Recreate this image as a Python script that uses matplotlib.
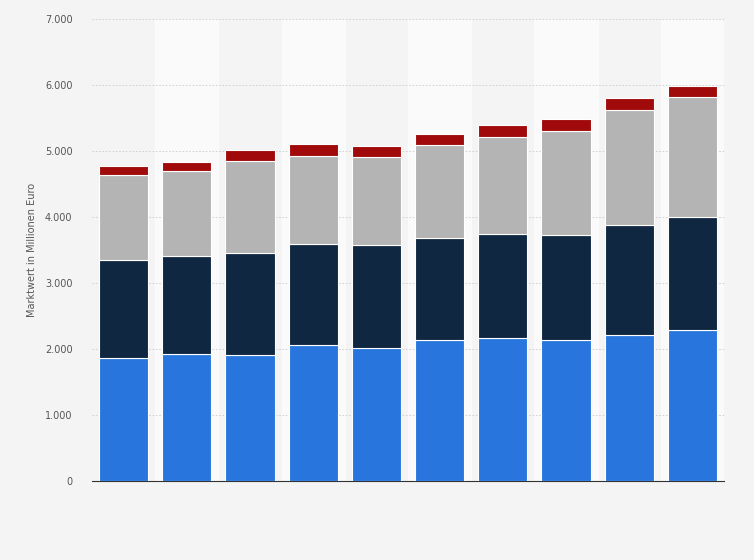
import matplotlib
matplotlib.use("Agg")
import matplotlib.pyplot as plt
from matplotlib.ticker import FuncFormatter

categories = list(range(10))
blue = [1864, 1924, 1909, 2061, 2015, 2136, 2167, 2136, 2212, 2288]
navy = [1484, 1485, 1546, 1530, 1561, 1546, 1575, 1591, 1667, 1712]
gray = [1288, 1288, 1393, 1333, 1333, 1409, 1470, 1576, 1742, 1818]
red = [137, 136, 167, 182, 167, 167, 182, 182, 182, 167]
yticks = [0, 1000, 2000, 3000, 4000, 5000, 6000, 7000]

fig = plt.figure(figsize=(7.54, 5.60), dpi=100, facecolor="#f4f4f4")
ax = fig.add_axes([92/754, 1-481/560, 632/754, 462/560])
ax.set_facecolor("#f4f4f4")
for i in categories:
    if i % 2 == 1:
        ax.axvspan(i-0.5, i+0.5, color="#fafafa", zorder=0)
b1 = blue
b2 = [a+b for a, b in zip(b1, navy)]
b3 = [a+b for a, b in zip(b2, gray)]
kw = dict(width=0.78, edgecolor="white", linewidth=0.8, zorder=3)
ax.bar(categories, blue, color="#2876dd", **kw)
ax.bar(categories, navy, bottom=b1, color="#0f2741", **kw)
ax.bar(categories, gray, bottom=b2, color="#b4b4b4", **kw)
ax.bar(categories, red, bottom=b3, color="#a10a0a", **kw)
ax.set_xlim(-0.5, 9.5)
ax.set_ylim(0, 7000)
ax.set_yticks(yticks)
ax.yaxis.set_major_formatter(FuncFormatter(lambda v, p: f"{int(v):,}".replace(",", ".")))
ax.grid(axis="y", color="#cccccc", linestyle=(0, (2, 2)), linewidth=0.6, zorder=1)
ax.set_xticks([])
for s in ["top", "right", "left"]:
    ax.spines[s].set_visible(False)
ax.spines["bottom"].set_color("#333333")
ax.tick_params(axis="y", length=0, labelsize=7, colors="#555555", pad=14)
ax.set_ylabel("Marktwert in Millionen Euro", fontsize=7, color="#555555", labelpad=6)
fig.savefig("out.png", dpi=100, facecolor=fig.get_facecolor())
